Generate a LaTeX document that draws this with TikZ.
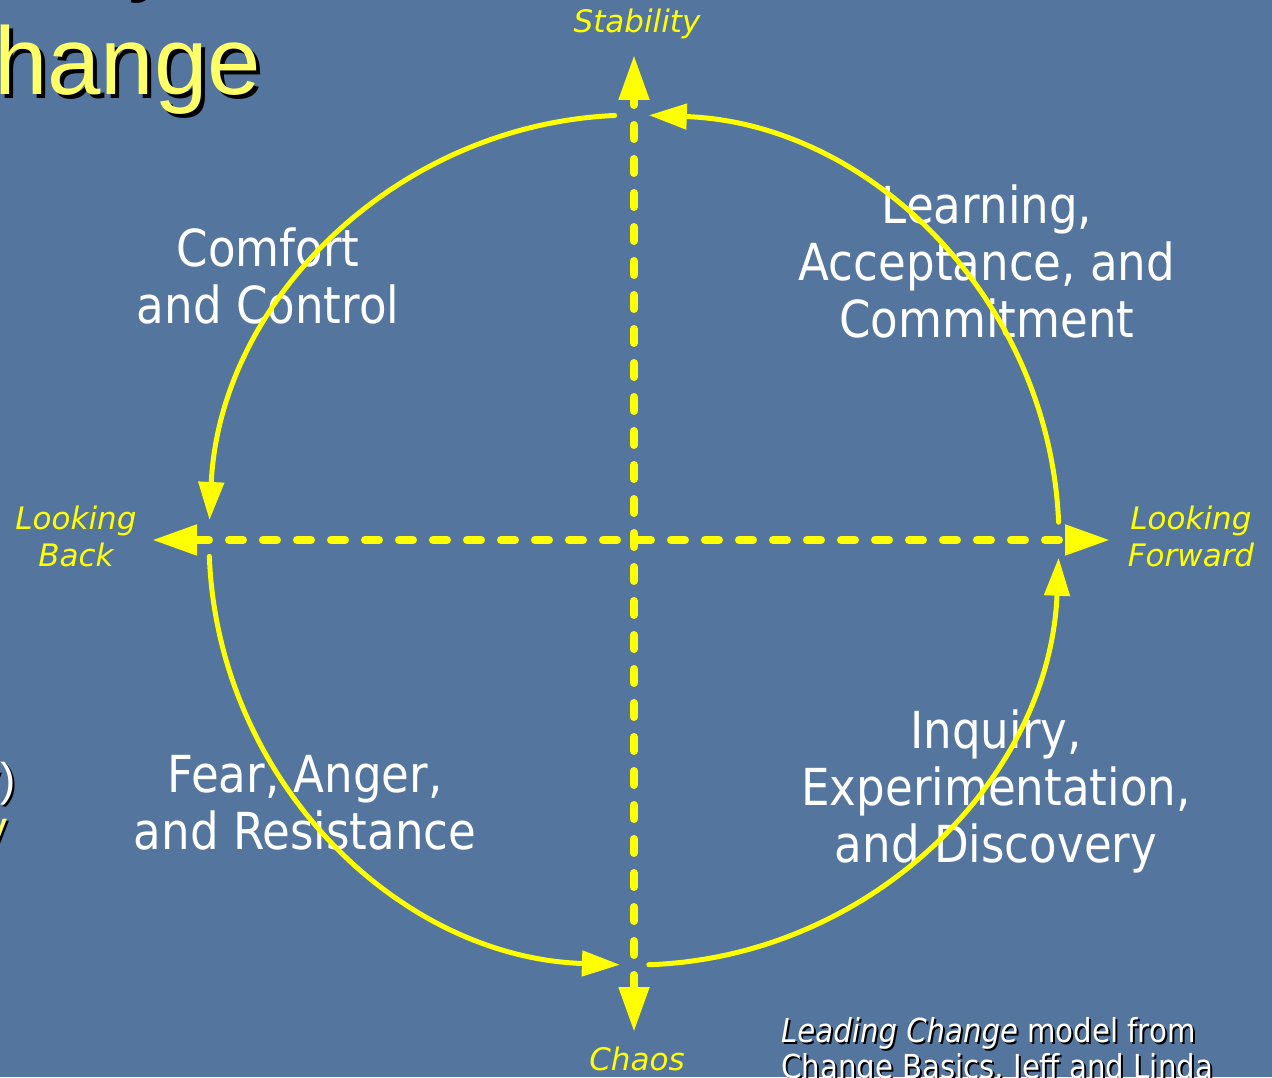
\documentclass[tikz,border=0pt]{standalone}
\usepackage{fontspec}
\usetikzlibrary{arrows.meta}
\setmainfont{DejaVu Sans}
\newfontfamily\labelfont[FakeStretch=0.885]{DejaVu Sans}
\newfontfamily\axisfont{DejaVu Sans}
\newfontfamily\titlefont{Liberation Sans}
\definecolor{slideblue}{RGB}{83,117,158}
\definecolor{titleyellow}{RGB}{255,255,102}
\definecolor{lineyellow}{RGB}{255,255,0}

\begin{document}
\begin{tikzpicture}[x=1pt,y=1pt,
  quadrant/.style={text=white,align=center,inner sep=0pt,anchor=base,
    font=\labelfont\fontsize{51}{57}\selectfont},
  axislabel/.style={text=lineyellow,align=center,inner sep=0pt,anchor=base,
    font=\axisfont\itshape\fontsize{31}{37}\selectfont},
  titletext/.style={inner sep=0pt,anchor=base west,
    font=\titlefont\fontsize{96}{110}\selectfont},
  edgetext/.style={inner sep=0pt,anchor=base east,
    font=\titlefont\fontsize{46}{52}\selectfont},
  credit/.style={inner sep=0pt,anchor=base west,align=left,
    font=\labelfont\fontsize{33}{36}\selectfont},
  axis/.style={lineyellow,line width=8pt,line cap=round,
    dash pattern=on 14pt off 20pt,<->,>={Triangle[length=45pt,width=29pt]}},
  loopline/.style={lineyellow,line width=5pt,line cap=round,
    -{Triangle[length=38pt,width=25pt]}}]
%\draw [lightgray](0,0) grid [step=100] (1272,1077);
\useasboundingbox (0,0) rectangle (1272,1077);
\fill [slideblue](0,0) rectangle (1272,1077);

% what is left of the slide title and bullets
\node [titletext,text=black] (titleyshadow) at (128,1093){y};
\node [titletext,text=titleyellow] (titley) at (124,1097){y};
\node [titletext,text=black] (titleshadow) at (-2,978){hange};
\node [titletext,text=titleyellow] (title) at (-6,982){hange};
\node [edgetext,text=black] (parenshadow) at (18,279){y)};
\node [edgetext,text=white] (paren) at (16,281){y)};
\node [edgetext,text=black] (bulletshadow) at (10,231){y};
\node [edgetext,text=titleyellow] (bullet) at (8,233){y};

% quadrants (base = last line)
\node [quadrant] (comfort) at ( 268,753){Comfort\\and Control};
\node [quadrant] (learning) at ( 987,739){Learning,\\Acceptance, and\\Commitment};
\node [quadrant] (fear) at ( 305,227){Fear, Anger,\\and Resistance};
\node [quadrant] (inquiry) at ( 996,214){Inquiry,\\Experimentation,\\and Discovery};

% axis labels
\node [axislabel] (stability) at ( 637,1044){Stability};
\node [axislabel] (chaos) at ( 637,7){Chaos};
\node [axislabel] (back) at ( 76,510){Looking\\Back};
\node [axislabel] (forward) at (1191,510){Looking\\Forward};

\node [credit,text=black] (sourceshadow) at (783,-3){\itshape Leading Change\upshape{} model from\\Change Basics, Jeff and Linda};
\node [credit,text=white] (source) at (781,-1){\itshape Leading Change\upshape{} model from\\Change Basics, Jeff and Linda};

% axes
\coordinate (o) at (634,537);
\coordinate (stabend) at (634,1022);
\coordinate (chaosend) at (634,45);
\coordinate (backend) at (152,537);
\coordinate (forwardend) at (1110,537);
\draw [axis](chaosend) -- (stabend);
\draw [axis](backend) -- (forwardend);

% the cycle, r = 425
\draw [loopline]([shift={(92.6:425)}]o) arc [start angle=92.6, end angle=177.3, radius=425];
\draw [loopline]([shift={(182.2:425)}]o) arc [start angle=182.2, end angle=268.1, radius=425];
\draw [loopline]([shift={(272.0:425)}]o) arc [start angle=272.0, end angle=357.6, radius=425];
\draw [loopline]([shift={(2.4:425)}]o) arc [start angle=2.4, end angle=88.0, radius=425];
\end{tikzpicture}
\end{document}
